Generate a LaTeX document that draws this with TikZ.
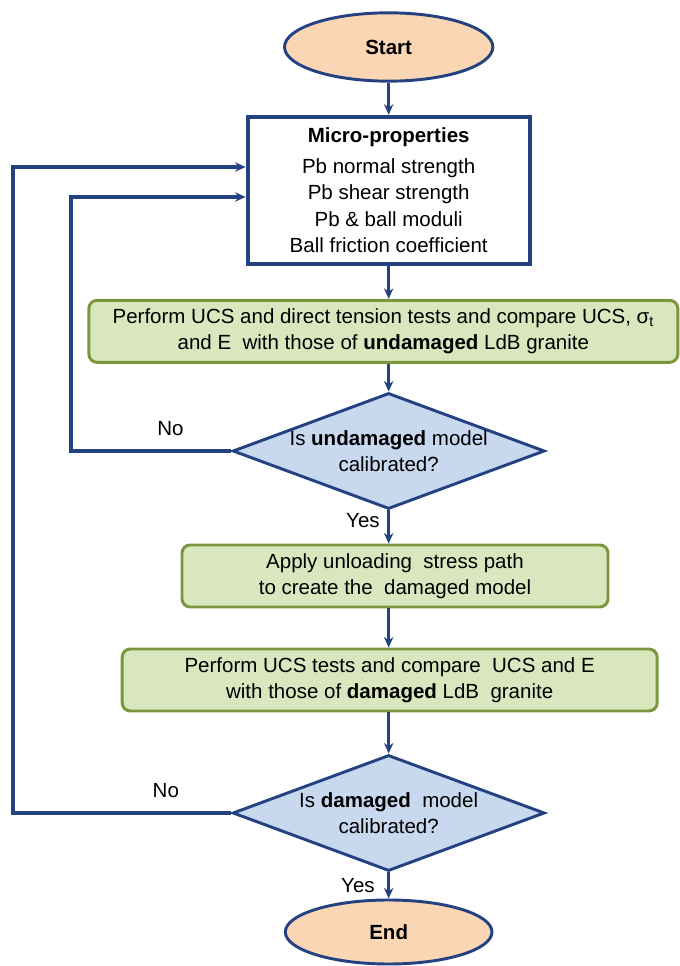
\documentclass[tikz,border=0pt]{standalone}
\usepackage{fontspec}
\setmainfont{Liberation Sans}
\usepackage{tikz}
\usetikzlibrary{arrows.meta, positioning, shapes.geometric}
\definecolor{navyline}{RGB}{36,66,128}
\definecolor{peachfill}{RGB}{250,214,180}
\definecolor{testfill}{RGB}{218,230,190}
\definecolor{testborder}{RGB}{122,150,62}
\definecolor{askfill}{RGB}{200,216,238}

\begin{document}
\begin{tikzpicture}[line width=3pt, draw=navyline, >={Stealth[length=9pt, width=8pt]},
    every node/.style={font=\fontsize{17.5}{22.5}\selectfont, text=black},
    terminal/.style={ellipse, draw=navyline, line width=2.5pt, fill=peachfill, minimum width=6.25cm, minimum height=2.05cm},
    propbox/.style={rectangle, draw=navyline, line width=3.5pt, fill=white, minimum width=8.46cm, minimum height=4.41cm, align=center},
    testbox/.style={rectangle, rounded corners=7pt, draw=testborder, line width=2.5pt, fill=testfill, minimum height=1.86cm, align=center},
    decision/.style={diamond, draw=navyline, line width=2.5pt, fill=askfill, aspect=2.69, inner sep=0pt, minimum width=9.36cm, minimum height=3.48cm, align=center}]
        \useasboundingbox (0, 0) rectangle (20.37, 28.98);

        % Nodes
        \node[terminal] (start) at (11.66, 27.57) {\textbf{Start}};
        \node[propbox] (micro) at (11.66, 23.27) {\textbf{Micro-properties}\\[4pt]
            Pb normal strength\\ Pb shear strength\\ Pb \& ball moduli\\ Ball friction coefficient};
        \node[testbox, minimum width=17.67cm] (perf) at (11.5, 19.04) {Perform UCS and direct tension tests and compare UCS, σ\textsubscript{t}\\
            and E \ with those of \textbf{undamaged} LdB granite};
        \node[decision] (undmg) at (11.66, 15.45) {Is \textbf{undamaged} model\\ calibrated?};
        \node[testbox, minimum width=12.78cm] (unload) at (11.85, 11.7) {Apply unloading \ stress path\\ to create the \ damaged model};
        \node[testbox, minimum width=16.05cm] (perfdmg) at (11.69, 8.58) {Perform UCS tests and compare \ UCS and E\\
            with those of \textbf{damaged} LdB \ granite};
        \node[decision] (dmg) at (11.66, 4.59) {Is \textbf{damaged} \ model\\ calibrated?};
        \node[terminal, minimum height=1.92cm, minimum width=6.2cm] (end) at (11.66, 1.02) {\textbf{End}};

        % Directed edges
        \draw[->] (start) -- (micro);
        \draw[->] (micro.south) -- (micro.south |- perf.north);
        \draw[->] (perf.south -| undmg.north) -- (undmg.north);
        \draw[->] (undmg.south) -- (undmg.south |- unload.north) node[pos=0.32, left=0.1cm] {Yes};
        \draw[->] (undmg.south |- unload.south) -- (undmg.south |- perfdmg.north);
        \draw[->] (undmg.south |- perfdmg.south) -- (dmg.north);
        \draw[->] (dmg.south) -- (end) node[pos=0.5, left=0.25cm] {Yes};

        % Feedback loops
        \draw[->] (undmg.west) -- ++(-4.8, 0) node[pos=0.38, above=0.3cm] {No} |- ([yshift=-0.2cm]micro.west);
        \draw[->] (dmg.west) -- ++(-6.54, 0) node[pos=0.3, above=0.3cm] {No} |- ([yshift=0.7cm]micro.west);
    \end{tikzpicture}
\end{document}
